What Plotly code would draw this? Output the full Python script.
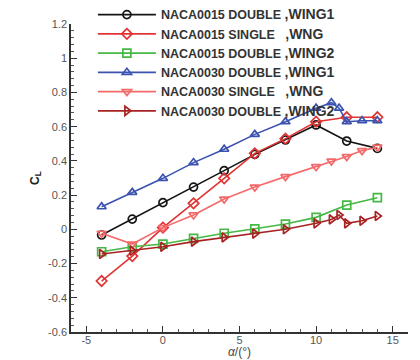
import plotly.graph_objects as go

# ---- data ----
alpha_a = [-4, -2, 0, 2, 4, 6, 8, 10, 12, 14]
alpha_b = [-4, -2, 0, 2, 4, 6, 8, 10, 11, 11.5, 12, 13, 14]

cl_0015_double_w1 = [-0.033, 0.06, 0.156, 0.247, 0.343, 0.438, 0.522, 0.61, 0.516, 0.473]
cl_0015_single = [-0.302, -0.156, 0.01, 0.152, 0.298, 0.444, 0.53, 0.629, 0.655, 0.655]
cl_0015_double_w2 = [-0.131, -0.102, -0.086, -0.053, -0.023, 0.003, 0.031, 0.07, 0.142, 0.185]
cl_0030_double_w1 = [0.132, 0.216, 0.298, 0.39, 0.468, 0.555, 0.629, 0.708, 0.74, 0.708, 0.629, 0.635, 0.635]
cl_0030_single = [-0.023, -0.086, 0.01, 0.084, 0.177, 0.247, 0.308, 0.366, 0.399, None, 0.425, 0.46, 0.48]
cl_0030_double_w2 = [-0.144, -0.125, -0.102, -0.072, -0.047, -0.025, 0.0, 0.035, 0.058, 0.084, 0.035, 0.05, 0.078]

names = [
    "NACA0015 DOUBLE <span style='font-size:14px'>,WING1</span>",
    "NACA0015 SINGLE   <span style='font-size:14px'>,WNG</span>",
    "NACA0015 DOUBLE <span style='font-size:14px'>,WING2</span>",
    "NACA0030 DOUBLE <span style='font-size:14px'>,WING1</span>",
    "NACA0030 SINGLE   <span style='font-size:14px'>,WNG</span>",
    "NACA0030 DOUBLE <span style='font-size:14px'>,WING2</span>",
]

y_tickvals = [-0.6, -0.4, -0.2, 0, 0.2, 0.4, 0.6, 0.8, 1, 1.2]
y_ticktext = ["-0.6", "-0.4", "-0.2", "0", "0.2", "0.4", "0.6", "0.8", "1", "1.2"]
x_tickvals = [-5, 0, 5, 10, 15]
x_ticktext = ["-5", "0", "5", "10", "15"]
x_title = "<i>α</i>/(°)"
y_title = "<b>C<sub>L</sub></b>"

series = [
    (alpha_a, cl_0015_double_w1, "#151515", "circle-open"),
    (alpha_a, cl_0015_single, "#e03434", "diamond-open"),
    (alpha_a, cl_0015_double_w2, "#45b845", "square-open"),
    (alpha_b, cl_0030_double_w1, "#3a52b0", "triangle-up-open"),
    (alpha_b, cl_0030_single, "#f46a6a", "triangle-down-open"),
    (alpha_b, cl_0030_double_w2, "#a82222", "triangle-right-open"),
]

fig = go.Figure()
for (xs, ys, col, sym), nm in zip(series, names):
    fig.add_trace(go.Scatter(
        x=xs, y=ys, name="<b>" + nm + "</b>", mode="lines+markers",
        connectgaps=True,
        line=dict(color=col, width=1.6),
        marker=dict(symbol=sym, size=8, color=col, line=dict(color=col, width=1.7)),
    ))

axis_common = dict(
    showline=True, linecolor="#333", linewidth=1.5,
    ticks="inside", ticklen=6, tickwidth=1.3, tickcolor="#333",
    showgrid=False, zeroline=False, automargin=False,
    tickfont=dict(family="Liberation Sans, Arial", size=11, color="#555"),
)

fig.update_layout(
    width=420, height=360,
    margin=dict(l=71, r=12, t=24, b=28, autoexpand=False),
    paper_bgcolor="white", plot_bgcolor="white",
    font=dict(family="Liberation Sans, Arial", color="#333"),
    xaxis=dict(range=[-6, 16], tickvals=x_tickvals, ticktext=x_ticktext,
               ticklabelstandoff=-3,
               minor=dict(ticks="inside", dtick=1, tick0=0, ticklen=3, tickcolor="#555"),
               **axis_common),
    yaxis=dict(range=[-0.6, 1.2], tickvals=y_tickvals, ticktext=y_ticktext,
               minor=dict(ticks="inside", dtick=0.04, tick0=0, ticklen=3, tickcolor="#555"),
               title=dict(text=y_title, standoff=6, font=dict(size=12, color="#222")),
               **axis_common),
    legend=dict(x=0.065, y=1.078, xanchor="left", yanchor="top",
                bgcolor="rgba(0,0,0,0)", itemwidth=58,
                font=dict(family="Liberation Sans, Arial", size=12.5, color="#333"),
                tracegroupgap=0),
    showlegend=True,
    annotations=[dict(text=x_title, xref="paper", yref="paper", x=0.5, y=-0.0909,
                      xanchor="center", yanchor="bottom", showarrow=False, borderpad=0,
                      font=dict(family="Liberation Sans, Arial", size=12, color="#444"))],
)

fig.write_html("out.html")
